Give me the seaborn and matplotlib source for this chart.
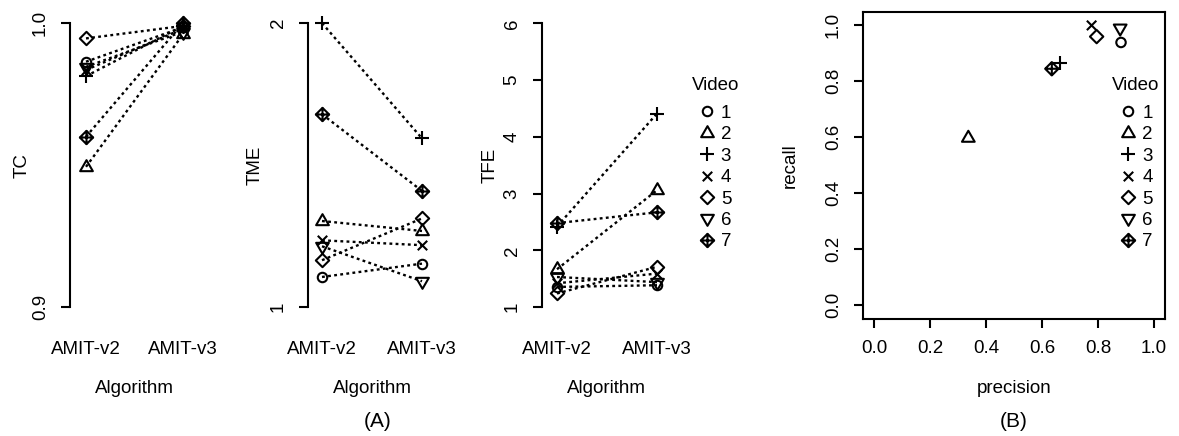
import numpy as np
import pandas as pd
import matplotlib
matplotlib.use("Agg")
import matplotlib.pyplot as plt
from matplotlib.path import Path
from matplotlib.lines import Line2D
import seaborn as sns

# ---------------- data ----------------
videos = ["1", "2", "3", "4", "5", "6", "7"]
algorithms = ["AMIT-v2", "AMIT-v3"]

tc_v2 = [0.9864, 0.9494, 0.9813, 0.9835, 0.9946, 0.9846, 0.9600]
tc_v3 = [0.9985, 0.9960, 0.9990, 0.9980, 0.9990, 0.9970, 1.0000]

tme_v2 = [1.106, 1.303, 2.000, 1.235, 1.165, 1.214, 1.679]
tme_v3 = [1.153, 1.268, 1.594, 1.218, 1.312, 1.091, 1.409]

tfe_v2 = [1.355, 1.667, 2.42, 1.42, 1.24, 1.53, 2.48]
tfe_v3 = [1.385, 3.06, 4.41, 1.59, 1.71, 1.44, 2.67]

precision = [0.882, 0.337, 0.664, 0.777, 0.795, 0.879, 0.635]
recall = [0.939, 0.597, 0.866, 1.000, 0.960, 0.990, 0.845]

# ---------------- style ----------------
sns.set_style("ticks")
plt.rcParams["font.family"] = ["Liberation Sans", "DejaVu Sans"]
FS = 13.5
LW = 1.5
MEW = 1.5
plt.rcParams.update({
    "font.size": FS,
    "axes.linewidth": LW,
    "xtick.major.width": LW,
    "ytick.major.width": LW,
    "xtick.color": "black",
    "ytick.color": "black",
    "axes.edgecolor": "black",
    "text.color": "black",
    "axes.labelcolor": "black",
})

M, L, C = Path.MOVETO, Path.LINETO, Path.CLOSEPOLY
circle_p = Path.unit_circle()
tri_up = Path([(0, 1), (-0.866, -0.5), (0.866, -0.5), (0, 1)], [M, L, L, C])
tri_dn = Path([(0, -1), (-0.866, 0.5), (0.866, 0.5), (0, -1)], [M, L, L, C])
plus_p = Path([(-1, 0), (1, 0), (0, -1), (0, 1)], [M, L, M, L])
x_p = Path([(-1, -1), (1, 1), (-1, 1), (1, -1)], [M, L, M, L])
diam_p = Path([(0, 1), (1, 0), (0, -1), (-1, 0), (0, 1)], [M, L, L, L, C])
diamplus_p = Path([(0, 1), (1, 0), (0, -1), (-1, 0), (0, 1),
                   (-1, 0), (1, 0), (0, -1), (0, 1)],
                  [M, L, L, L, C, M, L, M, L])

R0 = 3.4
MARKERS = {"1": circle_p, "2": tri_up, "3": plus_p, "4": x_p,
           "5": diam_p, "6": tri_dn, "7": diamplus_p}
MSIZE = {"1": 2 * R0, "2": 2 * 1.555 * R0, "3": 2 * 1.414 * R0, "4": 2 * R0,
         "5": 2 * 1.414 * R0, "6": 2 * 1.555 * R0, "7": 2 * 1.414 * R0}

W, H = 1179, 436
fig = plt.figure(figsize=(W / 100, H / 100), dpi=100)

TOP, BOT = 12, 319


def add_axes(left, right):
    return fig.add_axes([left / W, 1 - BOT / H, (right - left) / W, (BOT - TOP) / H])


def px2pt(p):
    return p * 0.72


def style_yticks(ax):
    for lbl in ax.get_yticklabels():
        lbl.set_rotation(90)
        lbl.set_va("center")


def line_panel(ax, v2, v3, ylim, yticks, ytlabels, ylabel, spine, p1, p2, right):
    for i, v in enumerate(videos):
        df = pd.DataFrame({"pos": [1, 2], "val": [v2[i], v3[i]]})
        sns.lineplot(data=df, x="pos", y="val", ax=ax, color="black",
                     linestyle=(0, (1.2, 1.4)), linewidth=1.7,
                     marker=MARKERS[v], markersize=MSIZE[v],
                     markerfacecolor="none", markeredgecolor="black",
                     markeredgewidth=MEW, estimator=None, errorbar=None,
                     legend=False, clip_on=False)
    unit = p2 - p1
    ax.set_xlim(1 - (p1 - spine) / unit, 2 + (right - p2) / unit)
    ax.set_ylim(*ylim)
    for s in ["top", "right", "bottom"]:
        ax.spines[s].set_visible(False)
    ax.spines["left"].set_bounds(yticks[0], yticks[-1])
    ax.set_xticks([1, 2], algorithms)
    ax.tick_params(axis="x", length=0, pad=px2pt(22), labelsize=FS)
    ax.set_yticks(yticks, ytlabels)
    ax.tick_params(axis="y", length=px2pt(9), pad=px2pt(12), labelsize=FS)
    style_yticks(ax)
    ax.set_xlabel("Algorithm", fontsize=FS)
    ax.set_ylabel(ylabel, fontsize=FS)
    wpx = right - spine
    ax.xaxis.label.set_va("center")
    ax.xaxis.set_label_coords(0.5, -(388 - BOT) / (BOT - TOP))
    ax.yaxis.label.set_va("center")
    return wpx


# Panel 1: TC
ax1 = add_axes(70, 199)
w = line_panel(ax1, tc_v2, tc_v3, (0.8958, 1.0039), [0.9, 1.0], ["0.9", "1.0"],
               "TC", 70, 86, 183, 199)
ax1.yaxis.set_label_coords(-(70 - 22) / w, 0.5)

# Panel 2: TME
ax2 = add_axes(308, 436)
w = line_panel(ax2, tme_v2, tme_v3, (0.958, 2.039), [1, 2], ["1", "2"],
               "TME", 308, 322, 422, 436)
ax2.yaxis.set_label_coords(-(308 - 255) / w, 0.5)

# Panel 3: TFE
ax3 = add_axes(541.7, 672)
w = line_panel(ax3, tfe_v2, tfe_v3, (0.79, 6.2), [1, 2, 3, 4, 5, 6],
               ["1", "2", "3", "4", "5", "6"], "TFE", 541.7, 557, 657, 672)
ax3.yaxis.set_label_coords(-(541.7 - 490) / w, 0.5)

# Panel 4: precision / recall
ax4 = add_axes(863, 1165)
for i, v in enumerate(videos):
    sns.scatterplot(x=[precision[i]], y=[recall[i]], ax=ax4, marker=MARKERS[v],
                    s=MSIZE[v] ** 2, facecolors="none", edgecolor="black",
                    color="black", linewidths=MEW, legend=False, clip_on=False)
ax4.set_xlim(-0.039, 1.039)
ax4.set_ylim(-0.05, 1.048)
for s in ax4.spines.values():
    s.set_visible(True)
    s.set_linewidth(LW)
ticks = [0.0, 0.2, 0.4, 0.6, 0.8, 1.0]
tlabels = ["0.0", "0.2", "0.4", "0.6", "0.8", "1.0"]
ax4.set_xticks(ticks, tlabels)
ax4.set_yticks(ticks, tlabels)
ax4.tick_params(axis="both", length=px2pt(9), pad=px2pt(12), labelsize=FS)
style_yticks(ax4)
ax4.set_xlabel("precision", fontsize=FS)
ax4.set_ylabel("recall", fontsize=FS)
ax4.xaxis.label.set_va("center")
ax4.xaxis.set_label_coords(0.5, -(388 - BOT) / (BOT - TOP))
ax4.yaxis.label.set_va("center")
ax4.yaxis.set_label_coords(-(863 - 790) / (1165 - 863), 0.5)


# Legends
def handles():
    return [Line2D([], [], linestyle="none", marker=MARKERS[v], markersize=MSIZE[v],
                   markerfacecolor="none", markeredgecolor="black",
                   markeredgewidth=MEW) for v in videos]


def add_legend(ax, title_left, marker_cx):
    fig.text(title_left / W, 1 - 85 / H, "Video", ha="left", va="center", fontsize=FS)
    hl = 1.0
    fs_px = FS / 0.72
    left = marker_cx - hl * fs_px / 2
    top = 111.7 - 7
    ax.legend(handles(), videos, loc="upper left",
              bbox_to_anchor=(left / W, 1 - top / H),
              bbox_transform=fig.transFigure, frameon=False, fontsize=FS,
              handlelength=hl, handletextpad=0.25, labelspacing=0.23,
              borderpad=0, borderaxespad=0)


add_legend(ax3, 692, 706.7)
add_legend(ax4, 1112, 1128.3)

fig.text(378 / W, 1 - 421 / H, "(A)", ha="center", va="center", fontsize=FS + 1.5)
fig.text(1014 / W, 1 - 421 / H, "(B)", ha="center", va="center", fontsize=FS + 1.5)

fig.savefig("out.png", dpi=100)
